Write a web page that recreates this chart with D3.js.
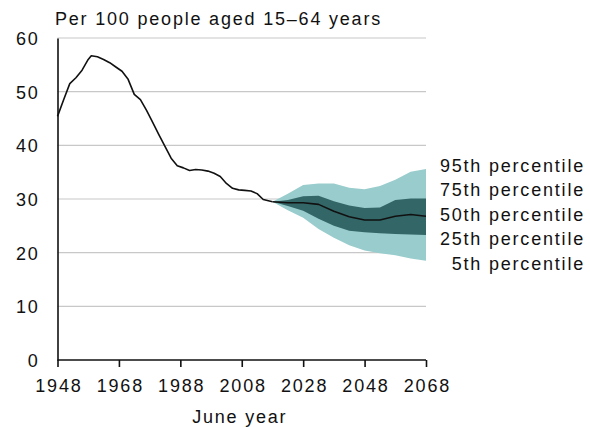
<!DOCTYPE html>
<html>
<head>
<meta charset="utf-8">
<script src="https://cdn.jsdelivr.net/npm/d3@7"></script>
<style>
  html, body { margin: 0; padding: 0; background: #fff; }
  text { font-family: "Liberation Sans", Arial, sans-serif; font-size: 18px; fill: #111; letter-spacing: 1.8px; }
</style>
</head>
<body>
<svg id="chart" width="590" height="427"></svg>
<script>
// Historical ratio (per 100 people aged 15–64), June years
const histYears = [1948, 1950, 1952, 1954, 1956, 1958, 1959, 1961, 1963, 1965, 1967, 1969, 1971, 1973, 1975,
  1977, 1979, 1981, 1983, 1985, 1987, 1989, 1991, 1993, 1995, 1997, 1999, 2001, 2003, 2005, 2007, 2009,
  2011, 2013, 2015, 2018];
const histValues = [45.4, 48.5, 51.5, 52.6, 54.0, 56.0, 56.7, 56.5, 56.0, 55.4, 54.6, 53.8, 52.3, 49.5, 48.5,
  46.5, 44.3, 42.0, 39.8, 37.6, 36.2, 35.8, 35.3, 35.5, 35.4, 35.2, 34.8, 34.2, 32.9, 32.0, 31.7, 31.6,
  31.5, 31.0, 29.9, 29.5];

// Projection percentiles
const projYears = [2018, 2023, 2028, 2033, 2038, 2043, 2048, 2053, 2058, 2063, 2068];
const p95 = [29.5, 31.0, 32.6, 32.9, 32.9, 32.1, 31.8, 32.4, 33.6, 35.1, 35.6];
const p75 = [29.5, 29.8, 30.5, 30.6, 29.6, 28.8, 28.3, 28.4, 29.8, 30.1, 30.1];
const p50 = [29.5, 29.3, 29.3, 29.0, 27.7, 26.7, 26.1, 26.1, 26.8, 27.1, 26.8];
const p25 = [29.5, 28.7, 27.8, 26.3, 25.0, 24.1, 23.8, 23.6, 23.5, 23.4, 23.3];
const p5  = [29.5, 27.9, 26.5, 24.4, 22.8, 21.4, 20.4, 19.9, 19.5, 18.9, 18.5];

const xTicks = [1948, 1968, 1988, 2008, 2028, 2048, 2068];
const yTicks = [0, 10, 20, 30, 40, 50, 60];
const legendLabels = ["95th percentile", "75th percentile", "50th percentile", "25th percentile", "5th percentile"];

const svg = d3.select("#chart");
const x = d3.scaleLinear().domain([1948, 2068]).range([57.5, 426]);
const y = d3.scaleLinear().domain([0, 60]).range([360, 38]);

// Gridlines
svg.append("g")
  .selectAll("line")
  .data(yTicks.filter(d => d > 0))
  .join("line")
  .attr("x1", x(1948)).attr("x2", x(2068))
  .attr("y1", d => y(d)).attr("y2", d => y(d))
  .attr("stroke", "#c8c8c8").attr("stroke-width", 1.2);

// Percentile bands
const proj = projYears.map((yr, i) => ({ yr, p95: p95[i], p75: p75[i], p50: p50[i], p25: p25[i], p5: p5[i] }));
const band = (lo, hi) => d3.area().x(d => x(d.yr)).y0(d => y(d[lo])).y1(d => y(d[hi]));
svg.append("path").datum(proj).attr("d", band("p5", "p95")).attr("fill", "#99cccc");
svg.append("path").datum(proj).attr("d", band("p25", "p75")).attr("fill", "#336666");

// Lines
const line = d3.line().x(d => x(d[0])).y(d => y(d[1]));
svg.append("path")
  .datum(histYears.map((yr, i) => [yr, histValues[i]]))
  .attr("d", line).attr("fill", "none").attr("stroke", "#111").attr("stroke-width", 1.6)
  .attr("stroke-linejoin", "round");
svg.append("path")
  .datum(projYears.map((yr, i) => [yr, p50[i]]))
  .attr("d", line).attr("fill", "none").attr("stroke", "#111").attr("stroke-width", 1.6)
  .attr("stroke-linejoin", "round");

// X axis
const xAxis = svg.append("g").attr("transform", `translate(0,${y(0)})`)
  .call(d3.axisBottom(x).tickValues(xTicks).tickFormat(d3.format("d")).tickSize(7).tickPadding(6));
xAxis.select(".domain").attr("stroke", "#111").attr("stroke-width", 1.6).attr("d", `M${x(1948)},0H${x(2068)}`);
xAxis.selectAll(".tick line").attr("stroke", "#111").attr("stroke-width", 1.6);
xAxis.selectAll(".tick text").attr("font-size", null).attr("font-family", null).attr("fill", "#111")
  .attr("dx", "0.9px").attr("dy", null).attr("y", 32);

// Y axis
const yAxis = svg.append("g").attr("transform", `translate(${x(1948)},0)`)
  .call(d3.axisLeft(y).tickValues(yTicks).tickSize(0).tickPadding(18));
yAxis.select(".domain").attr("stroke", "#111").attr("stroke-width", 1.6);
yAxis.selectAll(".tick text").attr("font-size", null).attr("font-family", null).attr("fill", "#111")
  .attr("dy", "6.4px");

// Title and axis label
svg.append("text").attr("x", 55).attr("y", 25).text("Per 100 people aged 15–64 years");
svg.append("text").attr("x", (x(1948) + x(2068)) / 2 - 2).attr("y", 423).attr("text-anchor", "middle").text("June year");

// Percentile labels
svg.append("g")
  .selectAll("text")
  .data(legendLabels)
  .join("text")
  .attr("x", 585).attr("y", (d, i) => 171.5 + i * 24.5)
  .attr("text-anchor", "end")
  .text(d => d);
</script>
</body>
</html>
